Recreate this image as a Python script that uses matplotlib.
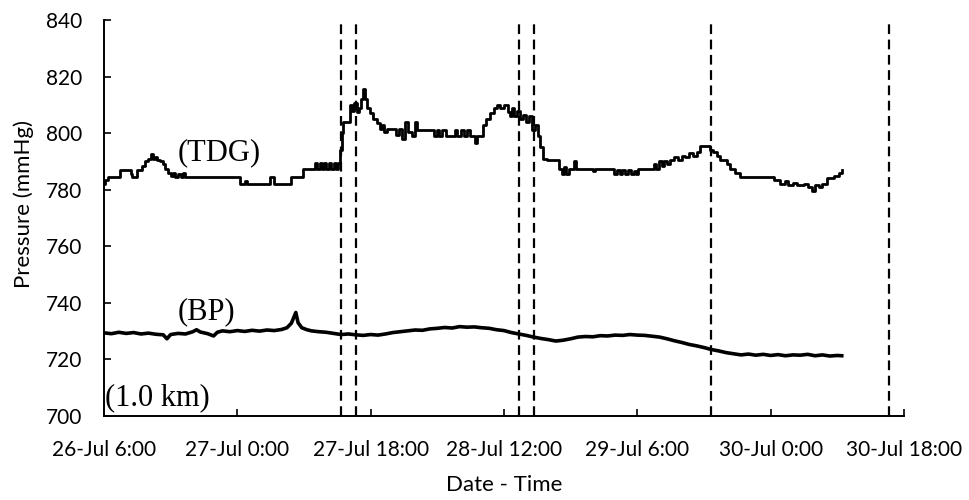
import matplotlib
matplotlib.use("Agg")
import matplotlib.pyplot as plt

# hours elapsed since 26-Jul 6:00
tdg_hours = [0.0, 0.2, 0.5, 2.2, 3.6, 3.8, 4.4, 5.2, 5.5, 6.0, 6.3, 6.6, 6.9, 7.2, 7.6,
             8.0, 8.3, 8.6, 9.0, 9.3, 9.6, 10.0, 10.4, 10.7, 10.9, 18.4, 19.0, 19.3,
             22.4, 22.9, 25.3, 26.9, 28.5, 28.8, 29.1, 29.4, 29.7, 30.0, 30.4, 30.7,
             31.0, 31.3, 31.6, 31.9, 32.1, 32.3, 33.2, 33.5, 33.8, 34.1, 34.4, 34.7,
             35.0, 35.2, 35.5, 35.9, 36.3, 36.8, 37.2, 37.5, 37.8, 38.2, 39.4, 39.8,
             40.3, 40.7, 41.1, 41.6, 42.0, 42.3, 44.5, 44.9, 45.2, 45.7, 46.2, 47.4,
             47.7, 48.2, 48.6, 49.0, 49.4, 50.1, 50.4, 51.2, 51.6, 52.1, 52.6, 53.0,
             53.5, 54.0, 54.5, 54.8, 55.1, 55.4, 55.8, 56.2, 56.6, 57.0, 57.4, 57.8,
             58.2, 58.6, 58.9, 59.3, 59.8, 61.4, 61.8, 62.1, 62.4, 62.8, 63.4, 63.7,
             66.0, 66.3, 68.8, 69.3, 69.6, 70.0, 70.3, 70.8, 71.1, 71.5, 71.8, 72.1,
             74.2, 74.5, 74.9, 75.3, 75.6, 76.0, 76.4, 76.9, 77.5, 78.0, 78.5, 79.0,
             79.5, 80.0, 80.5, 81.8, 82.2, 82.8, 83.2, 84.1, 84.5, 85.2, 85.9, 90.4,
             91.3, 92.0, 92.4, 93.0, 93.5, 94.5, 95.0, 95.6, 96.0, 96.5, 97.0, 97.6,
             98.5, 99.2, 99.6]
tdg_values = [782, 783.5, 784.5, 787, 785.5, 784.5, 787, 788.5, 790, 791, 792.5, 791,
              791.5, 790.5, 790, 789, 787.5, 786, 785, 786, 784.5, 785.5, 784.5, 786,
              784.5, 782, 783, 782, 784.5, 782, 784.5, 787.5, 789.5, 787.5, 789.5,
              787.5, 789.5, 787.5, 789.5, 787.5, 789.5, 787.5, 789.5, 794, 800, 804,
              810, 808, 810.5, 807.5, 809, 812, 815.5, 812, 809, 807, 805, 803.5, 801.5,
              803, 800.5, 801.5, 799.5, 801.5, 798, 804, 800.5, 799, 804, 801, 799, 801,
              799, 801, 799, 801, 799, 801, 799, 801, 799, 796.5, 799, 803, 805, 807,
              809, 810, 809, 810, 807.5, 806, 809, 806, 808, 805, 806.5, 804, 806, 801,
              803, 799, 795, 791, 790.5, 787.5, 785.5, 788, 785.5, 787.5, 790, 787.5,
              786.5, 787.5, 785.5, 787, 785.5, 787, 785.5, 787, 785.5, 786.5, 785.5,
              787.5, 789, 787.5, 790, 788.5, 790, 789, 790.5, 791.5, 790.5, 792, 791.5,
              793, 792, 793.5, 795.5, 794, 793.5, 792, 790.5, 789, 787.5, 786, 784.5,
              783.5, 782, 783, 781.5, 782.5, 781.5, 782, 781, 779.5, 781.5, 781, 782,
              784, 785, 786, 787]

bp_hours = [0, 1, 2, 3, 4, 5, 6, 7, 8, 8.5, 9, 10, 11, 12, 12.5, 13, 14, 14.8, 15.3,
            16, 17, 18, 19, 20, 21, 22, 23, 24, 24.7, 25.3, 25.9, 26.2, 26.7, 27.4, 28,
            29, 30, 31, 32, 33, 34, 35, 36, 37, 38, 39, 40, 41, 42, 43, 44, 45, 46, 47,
            48, 49, 50, 51, 52, 53, 54, 55, 56, 57, 58, 59, 60, 61, 62, 63, 64, 65, 66,
            67, 68, 69, 70, 71, 72, 73, 74, 75, 76, 77, 78, 79, 80, 81, 82, 83, 84, 85,
            86, 87, 88, 89, 90, 91, 92, 93, 94, 95, 96, 97, 98, 99, 99.6]
bp_values = [729.4, 729.1, 729.6, 729.2, 729.5, 729.0, 729.3, 728.9, 728.7, 727.3, 728.8,
             729.2, 729.0, 729.8, 730.5, 729.7, 729.1, 728.3, 729.6, 730.1, 729.8, 730.2,
             729.9, 730.3, 730.0, 730.4, 730.2, 730.6, 731.2, 732.8, 736.6, 733.0, 731.2,
             730.5, 730.1, 729.8, 729.6, 729.2, 728.8, 729.0, 728.7, 728.5, 728.8, 728.6,
             729.0, 729.5, 729.8, 730.1, 730.4, 730.3, 730.8, 731.0, 731.3, 731.1, 731.6,
             731.4, 731.5, 731.2, 731.0, 730.5, 730.2, 729.5, 729.0, 728.5, 727.9, 727.4,
             727.0, 726.5, 726.8, 727.3, 727.9, 728.1, 728.0, 728.4, 728.3, 728.6, 728.5,
             728.8, 728.6, 728.5, 728.2, 727.9, 727.3, 726.6, 726.0, 725.3, 724.8, 724.2,
             723.5, 723.0, 722.4, 722.0, 721.6, 721.9, 721.5, 721.8, 721.4, 721.7, 721.3,
             721.6, 721.5, 721.8, 721.3, 721.6, 721.2, 721.4, 721.3]

# sampling campaign boundaries (hours since 26-Jul 6:00)
event_hours = [32, 34, 56, 58, 82, 106]

tick_hours = [0, 18, 36, 54, 72, 90, 108]
tick_labels = ["26-Jul 6:00", "27-Jul 0:00", "27-Jul 18:00", "28-Jul 12:00",
               "29-Jul 6:00", "30-Jul 0:00", "30-Jul 18:00"]
y_ticks = [700, 720, 740, 760, 780, 800, 820, 840]

plt.rcParams["font.family"] = ["Lato", "DejaVu Sans"]
plt.rcParams["lines.scale_dashes"] = False

fig = plt.figure(figsize=(9.69, 5.0), dpi=100)
ax = fig.add_axes([0.1073, 0.168, 0.8256, 0.792])

ax.plot(tdg_hours, tdg_values, color="black", lw=2.0, drawstyle="steps-post")
ax.plot(bp_hours, bp_values, color="black", lw=2.6)

for h in event_hours:
    ax.axvline(h, color="black", lw=1.6, linestyle=(0, (7, 4)))

serif = ["Liberation Serif", "DejaVu Serif"]
ax.text(9.9, 793, "(TDG)", family=serif, fontsize=22, va="center", ha="left")
ax.text(9.9, 736.8, "(BP)", family=serif, fontsize=22, va="center", ha="left")
ax.text(0.15, 706.4, "(1.0 km)", family=serif, fontsize=22, va="center", ha="left")

ax.set_xlim(0, 108)
ax.set_ylim(700, 840)
ax.set_xticks(tick_hours)
ax.set_xticklabels(tick_labels)
ax.set_yticks(y_ticks)

ax.spines["top"].set_visible(False)
ax.spines["right"].set_visible(False)
for s in ("left", "bottom"):
    ax.spines[s].set_linewidth(1.4)
ax.tick_params(direction="in", length=5, width=1.2, labelsize=15)
ax.tick_params(axis="x", pad=17)
ax.tick_params(axis="y", pad=16)

ax.set_ylabel("Pressure (mmHg)", fontsize=16)
ax.set_xlabel("Date - Time", fontsize=16)
ax.yaxis.set_label_coords(-0.088, 0.535)
ax.xaxis.set_label_coords(0.5, -0.148)

fig.savefig("out.png", dpi=100)
